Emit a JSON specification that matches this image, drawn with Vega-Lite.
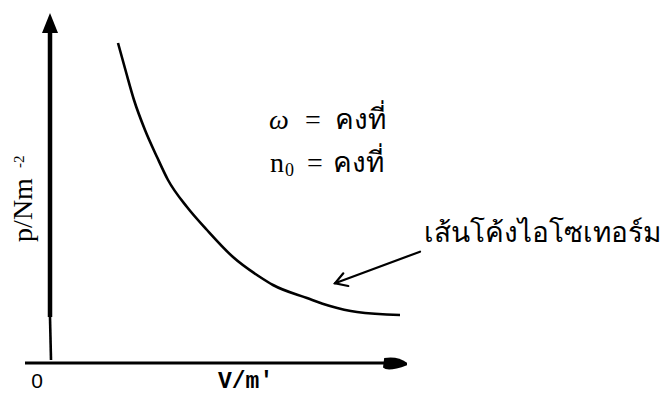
{
  "$schema": "https://vega.github.io/schema/vega-lite/v6.json",
  "width": 662,
  "height": 394,
  "autosize": {"type": "none"},
  "padding": 0,
  "background": "white",
  "config": {"view": {"stroke": null}},
  "datasets": {
    "isotherm": [
      {"V": 6.8, "p": 32.0},
      {"V": 7.6, "p": 29.1},
      {"V": 8.4, "p": 26.3},
      {"V": 9.5, "p": 23.3},
      {"V": 10.7, "p": 20.6},
      {"V": 11.8, "p": 18.3},
      {"V": 13.7, "p": 15.6},
      {"V": 15.7, "p": 13.3},
      {"V": 18.3, "p": 10.6},
      {"V": 21.0, "p": 8.6},
      {"V": 22.3, "p": 7.8},
      {"V": 25.7, "p": 6.5},
      {"V": 28.0, "p": 5.7},
      {"V": 30.7, "p": 5.1},
      {"V": 35.0, "p": 4.8}
    ],
    "pAxis": [
      {"V": 0, "p": 4.6, "V2": 0, "p2": 33}
    ],
    "pAxisFoot": [
      {"V": 0.1, "p": 0.3, "V2": 0, "p2": 4.6}
    ],
    "vAxis": [
      {"V": -2.5, "p": 0, "V2": 34.5, "p2": 0}
    ],
    "pHead": [{"V": 0, "p": 34}],
    "vHead": [{"V": 34.5, "p": -0.1}],
    "pointer": [
      {"part": "shaft", "order": 1, "V": 37.0, "p": 11.13},
      {"part": "shaft", "order": 2, "V": 28.5, "p": 7.97},
      {"part": "head", "order": 1, "V": 29.33, "p": 8.97},
      {"part": "head", "order": 2, "V": 28.5, "p": 7.97},
      {"part": "head", "order": 3, "V": 29.83, "p": 7.7}
    ],
    "serifLabels": [
      {"V": 26.3, "p": 23.4, "t": "="},
      {"V": 26.5, "p": 19.1, "t": "="}
    ],
    "thaiConst": [
      {"V": 28.5, "p": 23.4, "t": "คงที่"},
      {"V": 28.3, "p": 19.1, "t": "คงที่"}
    ]
  },
  "layer": [
    {
      "data": {"name": "isotherm"},
      "mark": {"type": "line", "interpolate": "monotone", "color": "black", "strokeWidth": 2.6},
      "encoding": {
        "x": {"field": "V", "type": "quantitative", "scale": {"domain": [-5, 61.2], "nice": false, "zero": false}, "axis": null},
        "y": {"field": "p", "type": "quantitative", "scale": {"domain": [-3.1, 36.3], "nice": false, "zero": false}, "axis": null}
      }
    },
    {
      "data": {"name": "pAxis"},
      "mark": {"type": "rule", "color": "black", "strokeWidth": 4.5},
      "encoding": {
        "x": {"field": "V", "type": "quantitative"},
        "y": {"field": "p", "type": "quantitative"},
        "x2": {"field": "V2"},
        "y2": {"field": "p2"}
      }
    },
    {
      "data": {"name": "pAxisFoot"},
      "mark": {"type": "rule", "color": "black", "strokeWidth": 2.6},
      "encoding": {
        "x": {"field": "V", "type": "quantitative"},
        "y": {"field": "p", "type": "quantitative"},
        "x2": {"field": "V2"},
        "y2": {"field": "p2"}
      }
    },
    {
      "data": {"name": "vAxis"},
      "mark": {"type": "rule", "color": "black", "strokeWidth": 3},
      "encoding": {
        "x": {"field": "V", "type": "quantitative"},
        "y": {"field": "p", "type": "quantitative"},
        "x2": {"field": "V2"},
        "y2": {"field": "p2"}
      }
    },
    {
      "data": {"name": "pHead"},
      "mark": {"type": "point", "shape": "M0,-1L-0.8,1L0.8,1Z", "size": 400, "filled": true, "color": "black", "opacity": 1},
      "encoding": {
        "x": {"field": "V", "type": "quantitative"},
        "y": {"field": "p", "type": "quantitative"}
      }
    },
    {
      "data": {"name": "vHead"},
      "mark": {"type": "point", "shape": "M1,-0.1Q0.2,-0.7,-0.9,-0.5L-1,0.3Q-0.6,0.7,1,0.1Z", "size": 576, "filled": true, "color": "black", "opacity": 1},
      "encoding": {
        "x": {"field": "V", "type": "quantitative"},
        "y": {"field": "p", "type": "quantitative"}
      }
    },
    {
      "data": {"name": "pointer"},
      "mark": {"type": "line", "color": "black", "strokeWidth": 2.2, "strokeCap": "round", "strokeJoin": "miter"},
      "encoding": {
        "x": {"field": "V", "type": "quantitative"},
        "y": {"field": "p", "type": "quantitative"},
        "detail": {"field": "part"},
        "order": {"field": "order"}
      }
    },
    {
      "data": {"values": [{"V": 22.9, "p": 23.4, "t": "ω"}]},
      "mark": {"type": "text", "font": "Liberation Serif", "fontStyle": "italic", "fontSize": 28, "align": "center", "baseline": "alphabetic", "color": "black"},
      "encoding": {
        "x": {"field": "V", "type": "quantitative"},
        "y": {"field": "p", "type": "quantitative"},
        "text": {"field": "t"}
      }
    },
    {
      "data": {"name": "serifLabels"},
      "mark": {"type": "text", "font": "Liberation Serif", "fontSize": 28, "align": "center", "baseline": "alphabetic", "color": "black"},
      "encoding": {
        "x": {"field": "V", "type": "quantitative"},
        "y": {"field": "p", "type": "quantitative"},
        "text": {"field": "t"}
      }
    },
    {
      "data": {"values": [{"V": 22.0, "p": 19.1, "t": "n"}]},
      "mark": {"type": "text", "font": "Liberation Serif", "fontSize": 28, "align": "left", "baseline": "alphabetic", "color": "black"},
      "encoding": {
        "x": {"field": "V", "type": "quantitative"},
        "y": {"field": "p", "type": "quantitative"},
        "text": {"field": "t"}
      }
    },
    {
      "data": {"values": [{"V": 23.5, "p": 18.7, "t": "0"}]},
      "mark": {"type": "text", "font": "Liberation Serif", "fontSize": 18, "align": "left", "baseline": "alphabetic", "color": "black"},
      "encoding": {
        "x": {"field": "V", "type": "quantitative"},
        "y": {"field": "p", "type": "quantitative"},
        "text": {"field": "t"}
      }
    },
    {
      "data": {"name": "thaiConst"},
      "mark": {"type": "text", "font": "Noto Sans", "fontSize": 28, "align": "left", "baseline": "alphabetic", "color": "black"},
      "encoding": {
        "x": {"field": "V", "type": "quantitative"},
        "y": {"field": "p", "type": "quantitative"},
        "text": {"field": "t"}
      }
    },
    {
      "data": {"values": [{"V": 37.4, "p": 12.1, "t": "เส้นโค้งไอโซเทอร์ม"}]},
      "mark": {"type": "text", "font": "Noto Sans", "fontSize": 28, "align": "left", "baseline": "alphabetic", "color": "black"},
      "encoding": {
        "x": {"field": "V", "type": "quantitative"},
        "y": {"field": "p", "type": "quantitative"},
        "text": {"field": "t"}
      }
    },
    {
      "data": {"values": [{"V": -1.8, "p": 15.3, "t": "p/Nm"}]},
      "mark": {"type": "text", "font": "Liberation Serif", "fontSize": 28, "angle": 270, "align": "center", "baseline": "alphabetic", "color": "black"},
      "encoding": {
        "x": {"field": "V", "type": "quantitative"},
        "y": {"field": "p", "type": "quantitative"},
        "text": {"field": "t"}
      }
    },
    {
      "data": {"values": [{"V": -2.6, "p": 19.5, "t": "-2"}]},
      "mark": {"type": "text", "font": "Liberation Serif", "fontSize": 15, "angle": 270, "align": "left", "baseline": "alphabetic", "color": "black"},
      "encoding": {
        "x": {"field": "V", "type": "quantitative"},
        "y": {"field": "p", "type": "quantitative"},
        "text": {"field": "t"}
      }
    },
    {
      "data": {"values": [{"V": -1.3, "p": -2.5, "t": "0"}]},
      "mark": {"type": "text", "font": "Liberation Sans", "fontSize": 21, "align": "center", "baseline": "alphabetic", "color": "black"},
      "encoding": {
        "x": {"field": "V", "type": "quantitative"},
        "y": {"field": "p", "type": "quantitative"},
        "text": {"field": "t"}
      }
    },
    {
      "data": {"values": [{"V": 16.8, "p": -2.5, "t": "V/m'"}]},
      "mark": {"type": "text", "font": "Liberation Mono", "fontWeight": "bold", "fontSize": 23, "align": "left", "baseline": "alphabetic", "color": "black"},
      "encoding": {
        "x": {"field": "V", "type": "quantitative"},
        "y": {"field": "p", "type": "quantitative"},
        "text": {"field": "t"}
      }
    }
  ]
}
